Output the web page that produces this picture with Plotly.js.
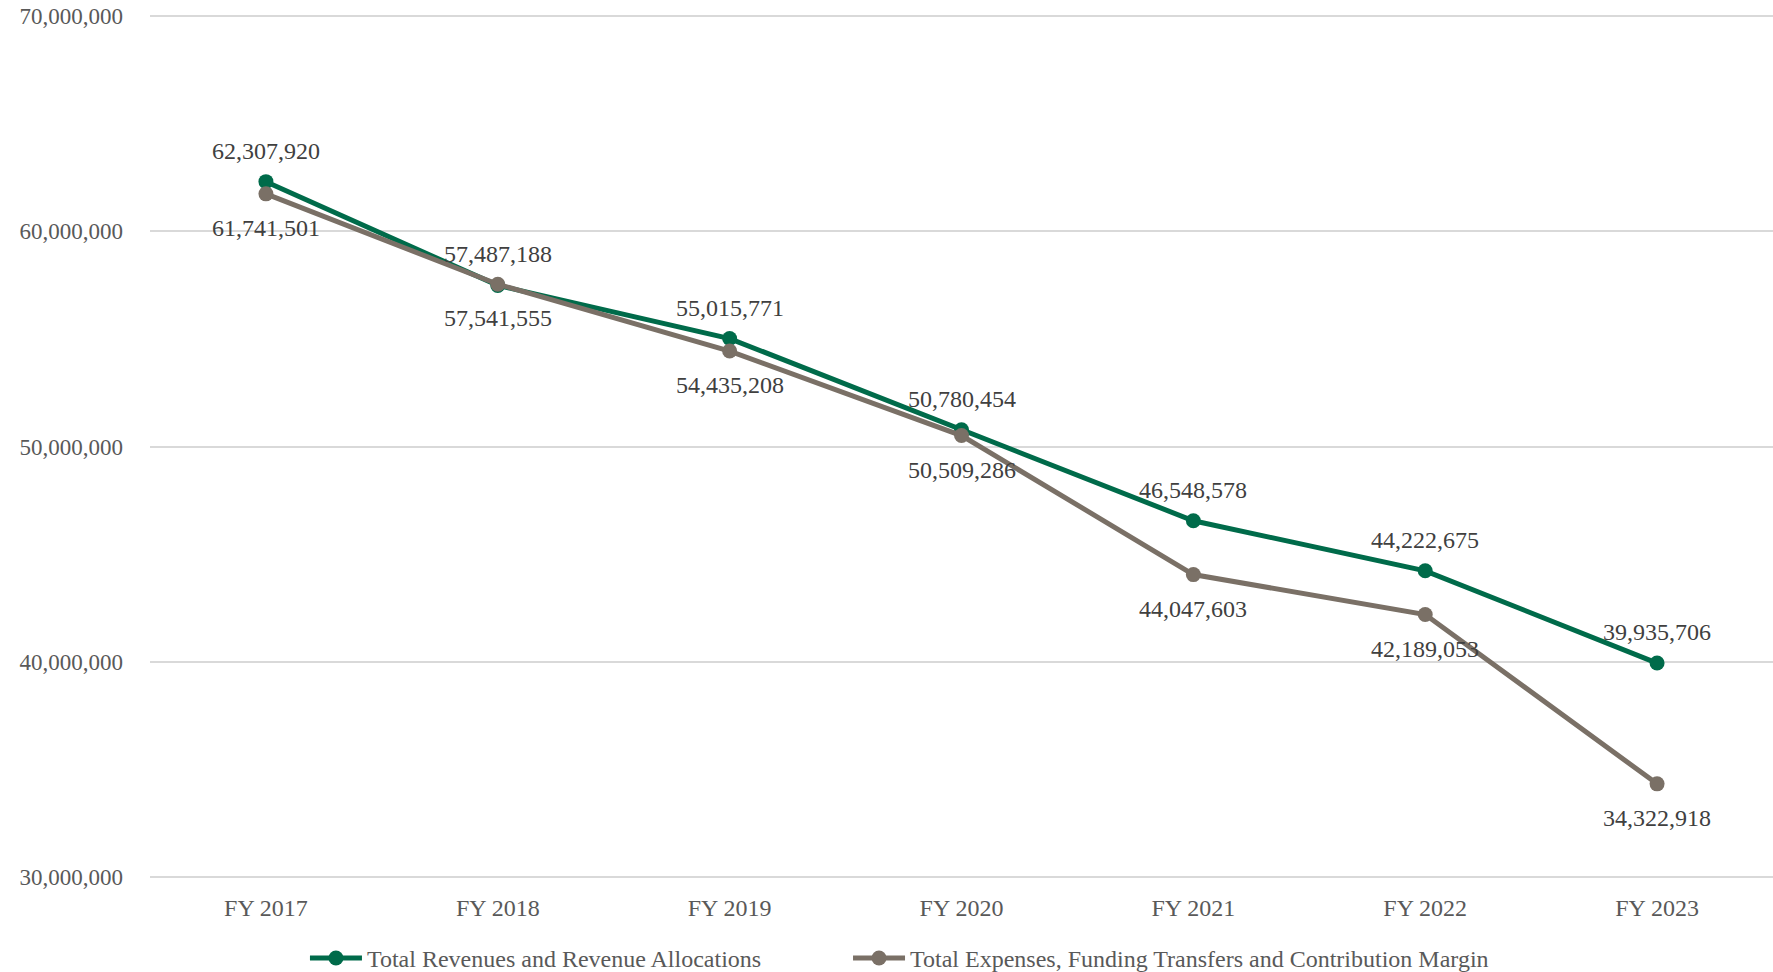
<!DOCTYPE html>
<html>
<head>
<meta charset="utf-8">
<script src="https://cdn.plot.ly/plotly-3.0.1.min.js"></script>
<style>html,body{margin:0;padding:0;background:#fff;}#chart{width:1773px;height:972px;}</style>
</head>
<body>
<div id="chart"></div>
<script>
const categories = ["FY 2017","FY 2018","FY 2019","FY 2020","FY 2021","FY 2022","FY 2023"];
const revenues = [62307920, 57487188, 55015771, 50780454, 46548578, 44222675, 39935706];
const expenses = [61741501, 57541555, 54435208, 50509286, 44047603, 42189053, 34322918];
const seriesNames = ["Total Revenues and Revenue Allocations", "Total Expenses, Funding Transfers and Contribution Margin"];
const yTicks = [30000000, 40000000, 50000000, 60000000, 70000000];

const fmt = v => v.toLocaleString('en-US');
const FONT = "Liberation Serif, Times New Roman, serif";
const TXT = "#595959";
const LBL = "#404040";
const GREEN = '#006B4A';
const GREY = '#7A7066';

const traces = [
  {
    x: categories, y: revenues, name: seriesNames[0], type: 'scatter', mode: 'lines+markers',
    line: {color: GREEN, width: 5}, marker: {color: GREEN, size: 15}, cliponaxis: false, legend: 'legend'
  },
  {
    x: categories, y: expenses, name: seriesNames[1], type: 'scatter', mode: 'lines+markers',
    line: {color: GREY, width: 5}, marker: {color: GREY, size: 15}, cliponaxis: false, legend: 'legend2'
  }
];

const annotations = [];
categories.forEach((c, i) => {
  annotations.push({x: c, y: revenues[i], xref: 'x', yref: 'y', text: fmt(revenues[i]), showarrow: false,
    yshift: 31, yanchor: 'middle', font: {family: FONT, size: 24, color: LBL}});
  annotations.push({x: c, y: expenses[i], xref: 'x', yref: 'y', text: fmt(expenses[i]), showarrow: false,
    yshift: -34, yanchor: 'middle', font: {family: FONT, size: 24, color: LBL}});
});

const legendBase = {orientation: 'h', xref: 'container', xanchor: 'left', yref: 'container', y: 0.014, yanchor: 'middle',
  font: {family: FONT, size: 24, color: TXT}, itemwidth: 52, bgcolor: 'rgba(0,0,0,0)'};

const layout = {
  width: 1773, height: 972,
  margin: {l: 150, r: 0, t: 14, b: 93},
  paper_bgcolor: '#fff', plot_bgcolor: '#fff',
  font: {family: FONT, size: 24, color: TXT},
  hovermode: false,
  showlegend: true,
  annotations: annotations,
  legend: Object.assign({}, legendBase, {x: 0.172}),
  legend2: Object.assign({}, legendBase, {x: 0.4783}),
  xaxis: {type: 'category', range: [-0.5, 6.5], showgrid: false, zeroline: false, showline: false,
          ticks: '', ticklabelstandoff: 12, tickfont: {family: FONT, size: 24, color: TXT}},
  yaxis: {range: [29900000, 70100000], tickvals: yTicks, ticktext: yTicks.map(fmt),
          showgrid: true, gridcolor: '#D9D9D9', gridwidth: 2, zeroline: false, showline: false,
          ticks: '', ticklabelstandoff: 26, tickfont: {family: FONT, size: 23, color: TXT}}
};

Plotly.newPlot('chart', traces, layout, {staticPlot: true, displayModeBar: false});
</script>
</body>
</html>
